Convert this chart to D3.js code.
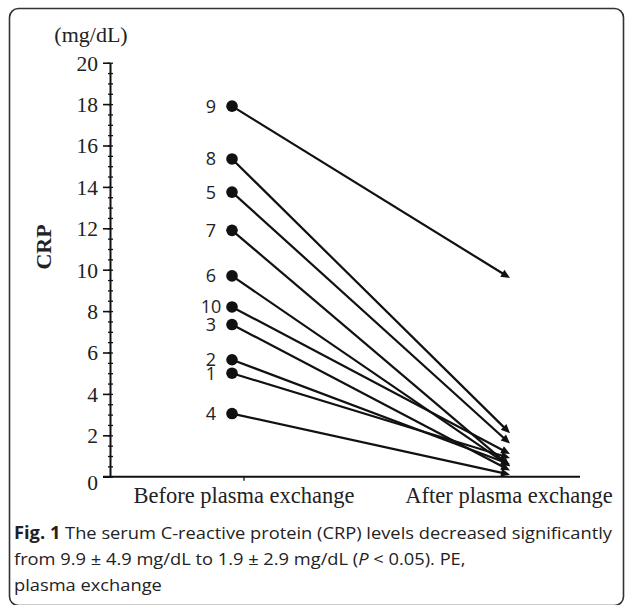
<!DOCTYPE html>
<html><head><meta charset="utf-8">
<script src="https://cdn.jsdelivr.net/npm/d3@7"></script>
<style>html,body{margin:0;padding:0;background:#fff;}svg{display:block;}</style>
</head><body>
<svg id="chart" width="627" height="605"></svg>
<script>
const categories = ["Before plasma exchange", "After plasma exchange"];
const patients = ["9", "8", "5", "7", "6", "10", "3", "2", "1", "4"];
const beforeValues = [17.9, 15.35, 13.75, 11.9, 9.7, 8.2, 7.35, 5.65, 5.0, 3.05];
const afterValues = [9.6, 2.1, 1.6, 0.5, 0.5, 1.1, 0.3, 0.6, 0.9, 0.1];
const yTicks = [0, 2, 4, 6, 8, 10, 12, 14, 16, 18, 20];
const yUnit = "(mg/dL)";
const yTitle = "CRP";
const captionLines = [
  [{t: "Fig. 1", b: true}, {t: " The serum C-reactive protein (CRP) levels decreased significantly"}],
  [{t: "from 9.9 ± 4.9 mg/dL to 1.9 ± 2.9 mg/dL ("}, {t: "P", i: true}, {t: " < 0.05). PE,"}],
  [{t: "plasma exchange"}]
];

const svg = d3.select("#chart");
const serif = "'Liberation Serif','Times New Roman',serif";
const sans = "'Open Sans','Noto Sans',sans-serif";

// frame
svg.append("rect").attr("x", 9.5).attr("y", 8.5).attr("width", 614).attr("height", 597)
  .attr("rx", 9).attr("fill", "none").attr("stroke", "#333").attr("stroke-width", 1.6);

const y = d3.scaleLinear().domain([0, 20]).range([476.7, 62.7]);
const x = d3.scalePoint().domain(categories).range([244, 509]);
const axisX0 = 110;

// minor ticks
const yMinor = d3.axisLeft(y).tickValues(d3.range(0, 20.01, 0.5)).tickSize(4).tickFormat("");
svg.append("g").attr("transform", `translate(${axisX0},0)`).call(yMinor)
  .call(g => g.select(".domain").remove())
  .call(g => g.selectAll("line").attr("stroke", "#111").attr("stroke-width", 1.3).attr("x2", 3).attr("x1", -2));

const yAxis = d3.axisLeft(y).tickValues(yTicks).tickSize(7).tickPadding(5).tickSizeOuter(0);
const gy = svg.append("g").attr("transform", `translate(${axisX0},0)`).call(yAxis);
gy.select(".domain").attr("stroke", "#111").attr("stroke-width", 2);
gy.selectAll(".tick line").attr("stroke", "#111").attr("stroke-width", 1.6);
gy.selectAll(".tick text").attr("font-family", serif).attr("font-size", 21.5).attr("fill", "#222")
  .attr("dy", d => d === 0 ? "0.6em" : "0.34em");

// x axis line
svg.append("line").attr("x1", axisX0 - 7).attr("x2", 580).attr("y1", y(0)).attr("y2", y(0))
  .attr("stroke", "#111").attr("stroke-width", 2);
svg.append("line").attr("x1", x(categories[0])).attr("x2", x(categories[0]))
  .attr("y1", y(0)).attr("y2", y(0) + 4).attr("stroke", "#111").attr("stroke-width", 1.3);
svg.selectAll("text.xlab").data(categories).join("text").attr("class", "xlab")
  .attr("x", d => x(d)).attr("y", 503).attr("text-anchor", "middle")
  .attr("font-family", serif).attr("font-size", 22.5).attr("fill", "#222").text(d => d);

// unit and title
svg.append("text").attr("x", 91).attr("y", 42).attr("text-anchor", "middle")
  .attr("font-family", serif).attr("font-size", 22).attr("fill", "#222").text(yUnit);
svg.append("text").attr("transform", "translate(51,247) rotate(-90)").attr("text-anchor", "middle")
  .attr("font-family", serif).attr("font-size", 22).attr("font-weight", "bold").attr("fill", "#222").text(yTitle);

// lines with arrows
const bx = x(categories[0]) - 12, ax = x(categories[1]) + 1;
const data = patients.map((p, i) => ({p, b: beforeValues[i], a: afterValues[i]}));
const g = svg.append("g");
data.forEach(d => {
  const x1 = bx, y1 = y(d.b), x2 = ax, y2 = y(d.a);
  const dx = x2 - x1, dy = y2 - y1, L = Math.hypot(dx, dy);
  const ux = dx / L, uy = dy / L, len = 9, w = 4;
  const baseX = x2 - ux * len, baseY = y2 - uy * len;
  g.append("line").attr("x1", x1).attr("y1", y1).attr("x2", baseX + ux).attr("y2", baseY + uy)
    .attr("stroke", "#111").attr("stroke-width", 2.2);
  g.append("path").attr("d", `M${x2},${y2}L${baseX - uy * w},${baseY + ux * w}L${baseX + uy * w},${baseY - ux * w}Z`)
    .attr("fill", "#111");
});
g.selectAll("circle").data(data).join("circle").attr("cx", bx).attr("cy", d => y(d.b)).attr("r", 5.8).attr("fill", "#111");
g.selectAll("text").data(data).join("text").attr("x", 211).attr("y", d => y(d.b)).attr("dy", "0.36em")
  .attr("text-anchor", "middle").attr("font-family", sans).attr("font-size", 18).attr("fill", "#222").text(d => d.p);

// caption
const cap = svg.append("g");
const capY = [539, 565, 591];
const texts = captionLines.map((line, i) => {
  const t = cap.append("text").attr("x", 14).attr("y", capY[i]).attr("font-family", sans).attr("font-size", 17).attr("fill", "#222");
  line.forEach(s => t.append("tspan").text(s.t).attr("font-weight", s.b ? "bold" : null).attr("font-style", s.i ? "italic" : null));
  return t;
});
const nat0 = texts[0].node().getComputedTextLength();
const factor = 598 / nat0;
texts.forEach(t => {
  const w = t.node().getComputedTextLength();
  t.attr("textLength", w * factor).attr("lengthAdjust", "spacingAndGlyphs");
});
</script>
</body></html>
